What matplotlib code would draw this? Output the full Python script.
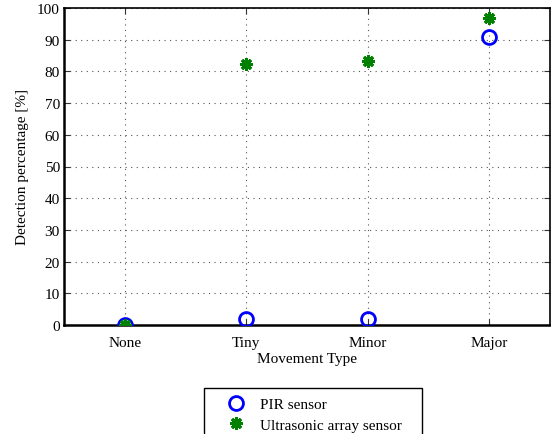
import matplotlib
matplotlib.use("Agg")
import matplotlib.pyplot as plt

categories = ["None", "Tiny", "Minor", "Major"]
pir = [0, 2, 2, 91]
ultra = [0, 82.3, 83.3, 96.8]

plt.rcParams['font.family'] = ['Liberation Serif', 'DejaVu Serif']
plt.rcParams['mathtext.fontset'] = 'stix'

fig = plt.figure(figsize=(5.51, 4.35), dpi=100)
ax = fig.add_axes([64/551, 1-326/435, (550-64)/551, (326-9)/435])
x = list(range(1, len(categories)+1))
ax.plot(x, pir, linestyle='none', marker='o', markersize=10, markerfacecolor='none',
        markeredgecolor='#0000ff', markeredgewidth=2, label='PIR sensor', zorder=3)
ax.plot(x, ultra, linestyle='none', marker=(8, 2, 0), markersize=9, color='#008000',
        markeredgewidth=2.2, label='Ultrasonic array sensor', zorder=4)
ax.set_xlim(0.5, 4.5)
ax.set_ylim(0, 100)
ax.set_xticks(x)
ax.set_xticklabels(categories)
ax.set_yticks(range(0, 101, 10))
ax.grid(True, linestyle=(0, (1, 4)), color='#555555', linewidth=0.8)
ax.tick_params(direction='in', top=True, right=True, labelsize=11, length=4, color='#333333')
ax.tick_params(axis='x', pad=8)
ax.tick_params(axis='y', pad=3)
for s in ax.spines.values():
    s.set_linewidth(1.2)
ax.spines['left'].set_linewidth(1.8)
ax.spines['bottom'].set_linewidth(1.8)
ax.set_xlabel('Movement Type', fontsize=11, labelpad=2)
ax.set_ylabel('Detection percentage [%]', fontsize=11, labelpad=6)

fig.legend(loc='upper left', bbox_to_anchor=(204/551, 0, 218/551, 1-389/435), mode='expand',
           borderaxespad=0, fontsize=11,
           frameon=True, fancybox=False, edgecolor='black', framealpha=1,
           handlelength=2.9, handletextpad=0.15, borderpad=0.62, labelspacing=0.45)
fig.savefig('out.png', dpi=100)
